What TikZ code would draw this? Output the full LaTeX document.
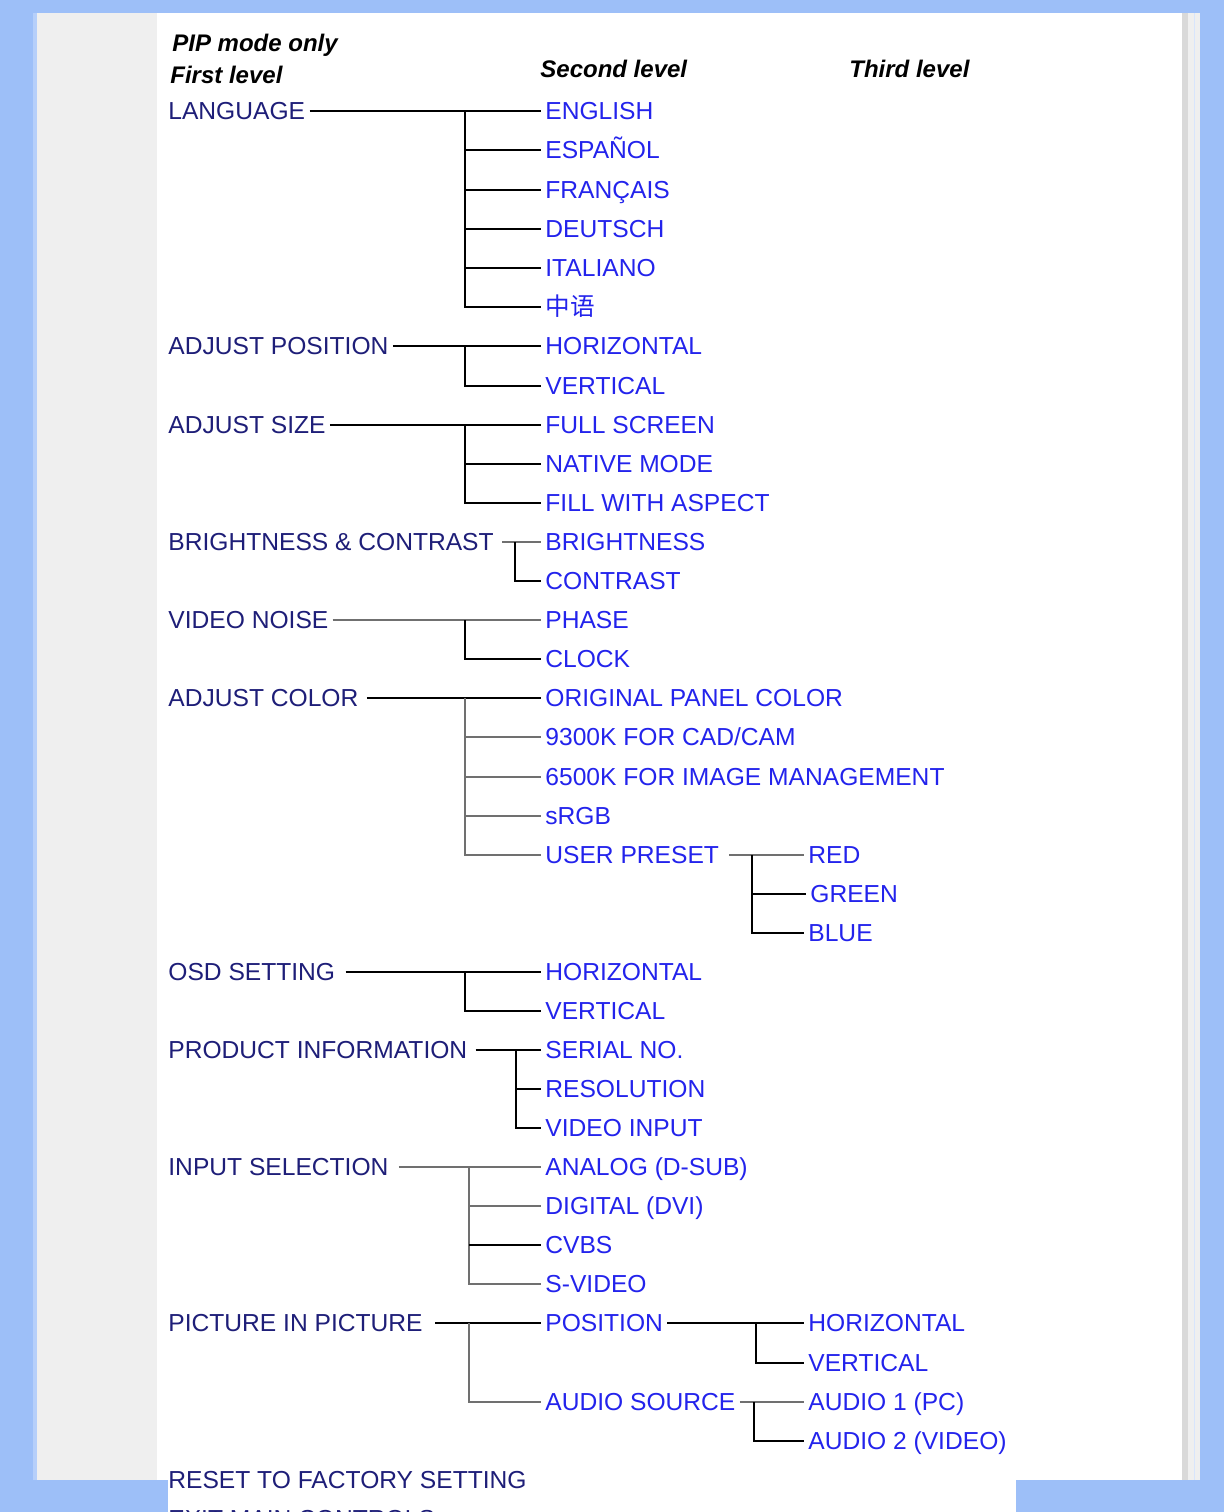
\documentclass[tikz,border=0pt]{standalone}
\usepackage{fontspec}
\setmainfont{Liberation Sans}
\newfontfamily\cjkfont{Noto Sans CJK SC}
\usepackage{xcolor}
\definecolor{pagebg}{HTML}{9DBFF8}
\definecolor{panelgray}{HTML}{EFEFEF}
\definecolor{navytxt}{HTML}{1E1E78}
\definecolor{bluetxt}{HTML}{2323EC}
\definecolor{linegray}{HTML}{707070}

\begin{document}
\begin{tikzpicture}[x=0.5pt,y=-0.5pt,font=\fontsize{12.3}{14}\selectfont]
      \tikzset{
            menuone/.style={anchor=west, inner xsep=2pt, inner ysep=0pt, text height=8.8pt, text depth=0pt, text=navytxt},
            menutwo/.style={menuone, text=bluetxt},
            menuthree/.style={menuone, text=bluetxt},
            menuhead/.style={menuone, text=black, font=\fontsize{12}{14}\selectfont\bfseries\itshape},
            brline/.style={black, line width=1pt},
            brgray/.style={linegray, line width=1.2pt}
      }

      % X positions (levels)
      \def\xA{164}
      \def\xB{541}
      \def\xC{804}

      % Page frame
      \useasboundingbox (0,0) rectangle (1224,1512);
      \clip (0,0) rectangle (1224,1512);
      \fill[pagebg] (0,0) rectangle (1224,1512);
      \fill[pagebg!75!white] (33,13) rectangle (37,1480);
      \fill[panelgray] (37,13) rectangle (157,1480);
      \fill[white] (157,13) rectangle (1182,1480);
      \fill[white] (168,1480) rectangle (1016,1512);
      \fill[gray!30] (1182,13) rectangle (1188,1480);
      \fill[panelgray] (1188,13) rectangle (1200,1480);
      \draw[pagebg!40!white, line width=0.5pt] (1194.5,13) -- (1194.5,1480);

      % Headers
      \node[menuhead] (hpip) at (168,43) {PIP mode only};
      \node[menuhead] (hfirst) at (166,75) {First level};
      \node[menuhead] (hsecond) at (536,69) {Second level};
      \node[menuhead] (hthird) at (845,69) {Third level};

      % First level
      \node[menuone] (lang) at (\xA,111) {LANGUAGE};
      \node[menuone] (adjpos) at (\xA,346) {ADJUST POSITION};
      \node[menuone] (adjsize) at (\xA,425) {ADJUST SIZE};
      \node[menuone] (bc) at (\xA,542) {BRIGHTNESS \& CONTRAST};
      \node[menuone] (vnoise) at (\xA,620) {VIDEO NOISE};
      \node[menuone] (adjcol) at (\xA,698) {ADJUST COLOR};
      \node[menuone] (osd) at (\xA,972) {OSD SETTING};
      \node[menuone] (prod) at (\xA,1050) {PRODUCT INFORMATION};
      \node[menuone] (input) at (\xA,1167) {INPUT SELECTION};
      \node[menuone] (pip) at (\xA,1323) {PICTURE IN PICTURE};
      \node[menuone] (reset) at (\xA,1480) {RESET TO FACTORY SETTING};
      \node[menuone] (exit) at (\xA,1519) {EXIT MAIN CONTROLS};

      % Second level
      \node[menutwo] (eng) at (\xB,111) {ENGLISH};
      \node[menutwo] (esp) at (\xB,150) {ESPAÑOL};
      \node[menutwo] (fra) at (\xB,190) {FRANÇAIS};
      \node[menutwo] (deu) at (\xB,229) {DEUTSCH};
      \node[menutwo] (ita) at (\xB,268) {ITALIANO};
      \node[menutwo] (zh) at (\xB,307) {\cjkfont 中语};
      \node[menutwo] (poshor) at (\xB,346) {HORIZONTAL};
      \node[menutwo] (posver) at (\xB,386) {VERTICAL};
      \node[menutwo] (full) at (\xB,425) {FULL SCREEN};
      \node[menutwo] (native) at (\xB,464) {NATIVE MODE};
      \node[menutwo] (fill) at (\xB,503) {FILL WITH ASPECT};
      \node[menutwo] (bright) at (\xB,542) {BRIGHTNESS};
      \node[menutwo] (contr) at (\xB,581) {CONTRAST};
      \node[menutwo] (phase) at (\xB,620) {PHASE};
      \node[menutwo] (clock) at (\xB,659) {CLOCK};
      \node[menutwo] (orig) at (\xB,698) {ORIGINAL PANEL COLOR};
      \node[menutwo] (kcad) at (\xB,737) {9300K FOR CAD/CAM};
      \node[menutwo] (kimg) at (\xB,777) {6500K FOR IMAGE MANAGEMENT};
      \node[menutwo] (srgb) at (\xB,816) {sRGB};
      \node[menutwo] (user) at (\xB,855) {USER PRESET};
      \node[menutwo] (osdhor) at (\xB,972) {HORIZONTAL};
      \node[menutwo] (osdver) at (\xB,1011) {VERTICAL};
      \node[menutwo] (serial) at (\xB,1050) {SERIAL NO.};
      \node[menutwo] (resol) at (\xB,1089) {RESOLUTION};
      \node[menutwo] (vinput) at (\xB,1128) {VIDEO INPUT};
      \node[menutwo] (analog) at (\xB,1167) {ANALOG (D-SUB)};
      \node[menutwo] (digital) at (\xB,1206) {DIGITAL (DVI)};
      \node[menutwo] (cvbs) at (\xB,1245) {CVBS};
      \node[menutwo] (svideo) at (\xB,1284) {S-VIDEO};
      \node[menutwo] (pippos) at (\xB,1323) {POSITION};
      \node[menutwo] (audio) at (\xB,1402) {AUDIO SOURCE};

      % Third level
      \node[menuthree] (red) at (\xC,855) {RED};
      \node[menuthree] (green) at (\xC+2,894) {GREEN};
      \node[menuthree] (blue) at (\xC,933) {BLUE};
      \node[menuthree] (piphor) at (\xC,1323) {HORIZONTAL};
      \node[menuthree] (pipver) at (\xC,1363) {VERTICAL};
      \node[menuthree] (aud1) at (\xC,1402) {AUDIO 1 (PC)};
      \node[menuthree] (aud2) at (\xC,1441) {AUDIO 2 (VIDEO)};

      % Junctions
      \coordinate (jlang) at (465,111);
      \coordinate (jpos) at (465,346);
      \coordinate (jsize) at (465,425);
      \coordinate (jbc) at (515,542);
      \coordinate (jvn) at (465,620);
      \coordinate (jcol) at (465,698);
      \coordinate (juser) at (752,855);
      \coordinate (josd) at (465,972);
      \coordinate (jprod) at (516,1050);
      \coordinate (jinput) at (469,1167);
      \coordinate (jpip) at (469,1323);
      \coordinate (jppos) at (756,1323);
      \coordinate (jaud) at (754,1402);

      % Branches
      \draw[brline] (lang.east) -- (eng.west);
      \foreach \c in {esp,fra,deu,ita,zh} \draw[brline] (jlang) |- (\c.west);

      \draw[brline] (adjpos.east) -- (poshor.west);
      \draw[brline] (jpos) |- (posver.west);

      \draw[brline] (adjsize.east) -- (full.west);
      \foreach \c in {native,fill} \draw[brline] (jsize) |- (\c.west);

      \draw[brgray] ([xshift=2pt]bc.east) -- (bright.west);
      \draw[brline] (jbc) |- (contr.west);

      \draw[brgray] (vnoise.east) -- (phase.west);
      \draw[brline] (jvn) |- (clock.west);

      \draw[brline] ([xshift=2pt]adjcol.east) -- (orig.west);
      \foreach \c in {kcad,kimg,srgb,user} \draw[brgray] (jcol) |- (\c.west);

      \draw[brgray] ([xshift=3pt]user.east) -- (red.west);
      \foreach \c in {green,blue} \draw[brline] (juser) |- (\c.west);

      \draw[brline] ([xshift=3pt]osd.east) -- (osdhor.west);
      \draw[brline] (josd) |- (osdver.west);

      \draw[brline] ([xshift=2pt]prod.east) -- (serial.west);
      \foreach \c in {resol,vinput} \draw[brline] (jprod) |- (\c.west);

      \draw[brgray] ([xshift=3pt]input.east) -- (analog.west);
      \foreach \c in {digital,svideo} \draw[brgray] (jinput) |- (\c.west);
      \draw[brline] (jinput |- cvbs.west) -- (cvbs.west);

      \draw[brline] ([xshift=4pt]pip.east) -- (pippos.west);
      \draw[brgray] (jpip) |- (audio.west);

      \draw[brline] (pippos.east) -- (piphor.west);
      \draw[brline] (jppos) |- (pipver.west);

      \draw[brgray] (audio.east) -- (aud1.west);
      \draw[brline] (jaud) |- (aud2.west);

\end{tikzpicture}
\end{document}
